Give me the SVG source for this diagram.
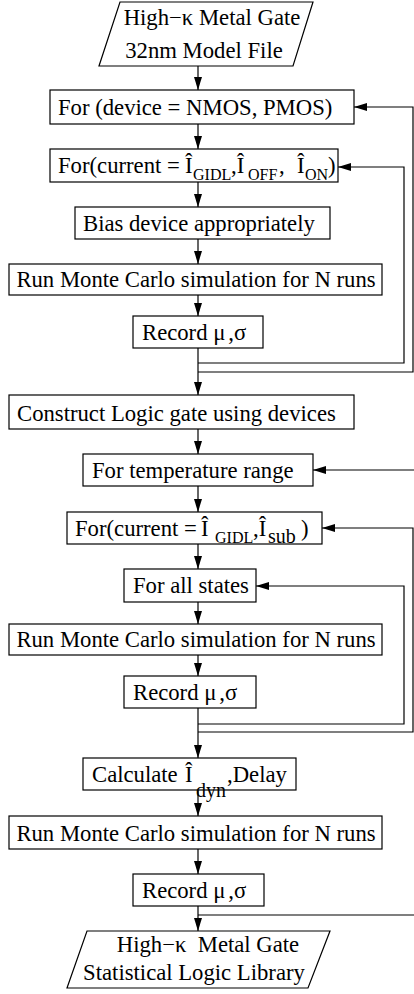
<svg xmlns="http://www.w3.org/2000/svg" width="414" height="994" viewBox="0 0 414 994">
<style>
.b{fill:#fff;stroke:#000;stroke-width:1.2}
.t{font-family:"Liberation Serif","Times New Roman",serif;font-size:22.7px;fill:#000}
.s{font-size:16px}
.s2{font-size:20px}
.m{text-anchor:middle}
.c{fill:none;stroke:#000;stroke-width:1.2}
</style>
<defs>
<marker id="ah" markerUnits="userSpaceOnUse" markerWidth="14" markerHeight="8" refX="13" refY="4" orient="auto">
<path d="M0,0 L13,4 L0,8 z" fill="#000"/>
</marker>
</defs>
<rect width="414" height="994" fill="#fff"/>
<g id="connectors">
<line class="c" x1="198" y1="66" x2="198" y2="90" marker-end="url(#ah)"/>
<line class="c" x1="198" y1="124" x2="198" y2="149" marker-end="url(#ah)"/>
<line class="c" x1="198" y1="182" x2="198" y2="207" marker-end="url(#ah)"/>
<line class="c" x1="198" y1="239" x2="198" y2="264" marker-end="url(#ah)"/>
<line class="c" x1="198" y1="295" x2="198" y2="316" marker-end="url(#ah)"/>
<line class="c" x1="198" y1="348" x2="198" y2="395" marker-end="url(#ah)"/>
<polyline class="c" points="198,363 404,363 404,167 338,167" marker-end="url(#ah)"/>
<polyline class="c" points="198,372 413,372 413,107 354,107" marker-end="url(#ah)"/>
<line class="c" x1="198" y1="429" x2="198" y2="454" marker-end="url(#ah)"/>
<line class="c" x1="198" y1="486" x2="198" y2="512" marker-end="url(#ah)"/>
<line class="c" x1="198" y1="544" x2="198" y2="569" marker-end="url(#ah)"/>
<line class="c" x1="198" y1="602" x2="198" y2="624" marker-end="url(#ah)"/>
<line class="c" x1="198" y1="655" x2="198" y2="676" marker-end="url(#ah)"/>
<line class="c" x1="198" y1="708" x2="198" y2="758" marker-end="url(#ah)"/>
<polyline class="c" points="198,724 404,724 404,586 256,586" marker-end="url(#ah)"/>
<polyline class="c" points="198,732 413,732 413,528 322,528" marker-end="url(#ah)"/>
<line class="c" x1="198" y1="790" x2="198" y2="816" marker-end="url(#ah)"/>
<line class="c" x1="198" y1="849" x2="198" y2="874" marker-end="url(#ah)"/>
<line class="c" x1="198" y1="906" x2="198" y2="931" marker-end="url(#ah)"/>
<polyline class="c" points="198,915 420,915 420,470 313,470" marker-end="url(#ah)"/>
</g>
<g id="model-file">
<polygon class="b" points="120,2 313,2 293,66 99,66"/>
<text class="t m" x="212" y="25">High−κ Metal Gate</text>
<text class="t m" x="204" y="58">32nm Model File</text>
</g>
<g id="for-device">
<rect class="b" x="50" y="90" width="304" height="34"/>
<text class="t" x="58" y="115">For (device = NMOS, PMOS)</text>
</g>
<g id="for-current-1">
<rect class="b" x="50" y="149" width="288" height="33"/>
<text class="t" x="58" y="173">For(current = <tspan x="185">Î</tspan><tspan class="s" x="193" y="180">GIDL</tspan><tspan x="231" y="173">,Î</tspan><tspan class="s" x="248" y="180">OFF</tspan><tspan x="279" y="173">, </tspan><tspan x="297">Î</tspan><tspan class="s" x="305" y="180">ON</tspan><tspan x="328" y="173">)</tspan></text>
</g>
<g id="bias">
<rect class="b" x="75" y="207" width="255" height="32"/>
<text class="t" x="83" y="231">Bias device appropriately</text>
</g>
<g id="mc-1">
<rect class="b" x="9" y="264" width="373" height="31"/>
<text class="t m" x="196" y="287">Run Monte Carlo simulation for N runs</text>
</g>
<g id="record-1">
<rect class="b" x="133" y="316" width="130" height="32"/>
<text class="t" x="142" y="340">Record μ<tspan dx="3">,σ</tspan></text>
</g>
<g id="construct">
<rect class="b" x="9" y="395" width="345" height="34"/>
<text class="t" x="17" y="421">Construct Logic gate using devices</text>
</g>
<g id="for-temp">
<rect class="b" x="83" y="454" width="230" height="32"/>
<text class="t" x="92" y="478">For temperature range</text>
</g>
<g id="for-current-2">
<rect class="b" x="67" y="512" width="255" height="32"/>
<text class="t" x="75" y="536">For(current = <tspan x="201">Î</tspan><tspan class="s" x="215" y="543">GIDL</tspan><tspan x="253" y="536">,Î</tspan><tspan class="s2" x="268" y="543">sub</tspan><tspan x="301" y="536">)</tspan></text>
</g>
<g id="for-states">
<rect class="b" x="124" y="569" width="132" height="33"/>
<text class="t" x="133" y="593">For all states</text>
</g>
<g id="mc-2">
<rect class="b" x="9" y="624" width="373" height="31"/>
<text class="t m" x="196" y="647">Run Monte Carlo simulation for N runs</text>
</g>
<g id="record-2">
<rect class="b" x="124" y="676" width="132" height="32"/>
<text class="t" x="133" y="700">Record μ<tspan dx="3">,σ</tspan></text>
</g>
<g id="calculate">
<rect class="b" x="83" y="758" width="213" height="32"/>
<text class="t" x="92" y="782">Calculate <tspan x="185">Î</tspan><tspan class="s2" x="196" y="797">dyn</tspan><tspan x="227" y="782">,Delay</tspan></text>
</g>
<g id="mc-3">
<rect class="b" x="9" y="816" width="373" height="33"/>
<text class="t m" x="196" y="841">Run Monte Carlo simulation for N runs</text>
</g>
<g id="record-3">
<rect class="b" x="133" y="874" width="131" height="32"/>
<text class="t" x="142" y="898">Record μ<tspan dx="3">,σ</tspan></text>
</g>
<g id="library">
<polygon class="b" points="87,931 330,931 308,988 67,988"/>
<text class="t m" x="208" y="952" xml:space="preserve">High−κ  Metal Gate</text>
<text class="t m" x="194" y="980">Statistical Logic Library</text>
</g>
</svg>
